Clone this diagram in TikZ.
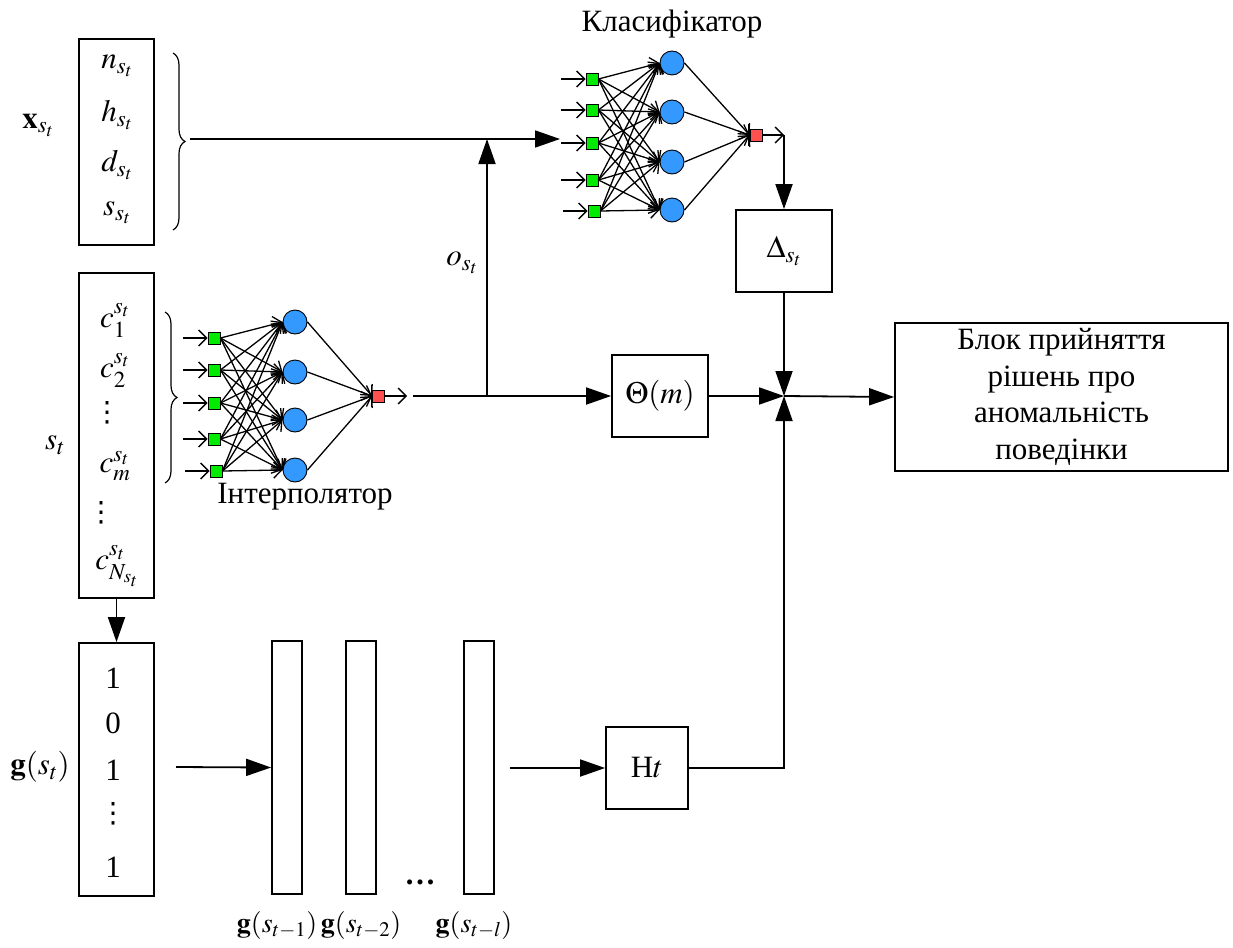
\documentclass[tikz,border=0pt]{standalone}
\usepackage{mathptmx}
\usepackage{fontspec}
\setmainfont{Liberation Serif}
\newfontfamily\dotsfont{DejaVu Sans}
\usetikzlibrary{arrows.meta,decorations.pathreplacing}

\definecolor{nin}{RGB}{0,235,0}
\definecolor{nhid}{RGB}{51,153,255}
\definecolor{nout}{RGB}{255,80,80}

\tikzset{
  box/.style={draw, line width=1.8pt, inner sep=0pt},
  flow/.style={line width=1.8pt, -{Triangle[length=25pt,width=17pt]}},
  plain/.style={line width=1.8pt},
  netedge/.style={line width=1.3pt, -{Straight Barb[length=8pt,width=16pt]}},
  innode/.style={draw, line width=0.9pt, fill=nin, minimum size=12pt, inner sep=0pt},
  hidnode/.style={circle, draw, line width=0.9pt, fill=nhid, minimum size=24pt, inner sep=0pt},
  outnode/.style={draw, line width=0.9pt, fill=nout, minimum size=12pt, inner sep=0pt},
  bracepath/.style={line width=1.2pt, decorate, decoration={brace, amplitude=12pt}},
  histlab/.style={font=\fontsize{28}{34}\selectfont},
  vdotsnode/.style={font=\dotsfont\fontsize{28}{30}\selectfont},
}

\begin{document}
\begin{tikzpicture}[x=1pt, y=-1pt, inner sep=1pt, font=\fontsize{31}{36}\selectfont]
\useasboundingbox (0,0) rectangle (1233,947);

% ---- feature vector x_{s_t}
\node[box, minimum width=75pt, minimum height=206pt] (xbox) at (116.5,142) {};
\node (xlab) at (38,125) {$\mathbf{x}_{s_t}$};
\node (xn) at (117,66) {$n_{s_t}$};
\node (xh) at (117,115) {$h_{s_t}$};
\node (xd) at (117,165) {$d_{s_t}$};
\node (xs) at (117,213) {$s_{s_t}$};
\draw[bracepath] (173,53) -- (173,230);

% ---- state s_t
\node[box, minimum width=75pt, minimum height=325pt] (sbox) at (116.5,435.5) {};
\node (slab) at (55,445) {$s_t$};
\node (c1) at (115,320) {$c_1^{s_t}$};
\node (c2) at (115,370) {$c_2^{s_t}$};
\node[vdotsnode] (cd1) at (107,413) {⋮};
\node (cm) at (115,466) {$c_m^{s_t}$};
\node[vdotsnode] (cd2) at (101,513) {⋮};
\node (cN) at (117,566) {$c_{N_{s_t}}^{s_t}$};
\draw[bracepath] (165,312) -- (165,483);

% ---- binary vector g(s_t)
\node[box, minimum width=75pt, minimum height=253pt] (gbox) at (116.5,769.5) {};
\node (glab) at (40,767) {$\mathbf{g}(s_t)$};
\node (g1) at (113,678) {1};
\node (g2) at (113,723) {0};
\node (g3) at (113,770) {1};
\node[vdotsnode] (g4) at (113,814) {⋮};
\node (g5) at (113,867) {1};
\draw[flow] (sbox.south) -- (gbox.north);

% ---- history of vectors
\node[box, minimum width=30pt, minimum height=253pt] (h1) at (287,767.5) {};
\node[box, minimum width=30pt, minimum height=253pt] (h2) at (361,767.5) {};
\node[box, minimum width=30pt, minimum height=253pt] (h3) at (479,767.5) {};
\node (hdots) at (420,882) {\textbf{\ldots}};
\node[histlab] (hl1) at (277,925) {$\mathbf{g}(s_{t-1})$};
\node[histlab] (hl2) at (361,925) {$\mathbf{g}(s_{t-2})$};
\node[histlab] (hl3) at (474,925) {$\mathbf{g}(s_{t-l})$};
\coordinate (gout) at (176,767);
\draw[flow] (gout) -- (h1.west);

% ---- Ht block
\node[box, minimum width=82pt, minimum height=82pt] (ht) at (647,768) {H$t$};
\coordinate (hin) at (510,768);
\draw[flow] (hin) -- (ht.west);

% ---- interpolator network
\foreach \i/\xx/\yy in {1/214/338, 2/214/370, 3/214/403, 4/214/439, 5/216/471} {
  \node[innode] (ii\i) at (\xx,\yy) {};
  \coordinate (iin\i) at (\xx-31,\yy);
}
\foreach \j/\yy in {1/322, 2/372, 3/420, 4/470}
  \node[hidnode] (ih\j) at (295,\yy) {};
\node[outnode] (io) at (378.5,396) {};
\foreach \i in {1,...,5} {
  \draw[netedge] (iin\i) -- (ii\i.west);
  \foreach \j in {1,...,4}
    \draw[netedge] (ii\i.east) -- (ih\j.west);
}
\foreach \j in {1,...,4}
  \draw[netedge] (ih\j.east) -- (io.west);
\draw[line width=1.3pt] ([xshift=-0.5pt]io.west) ++(0,-11) -- ++(0,22);
\coordinate (iout) at (407,396);
\draw[netedge] (io.east) -- (iout);
\node (ilab) at (305,497) {Інтерполятор};

% ---- classifier network
\foreach \i/\xx/\yy in {1/592/79, 2/592/110, 3/592/143, 4/592/180, 5/594/211} {
  \node[innode] (ci\i) at (\xx,\yy) {};
  \coordinate (cin\i) at (\xx-31,\yy);
}
\foreach \j/\yy in {1/63, 2/112, 3/162, 4/210}
  \node[hidnode] (ch\j) at (672,\yy) {};
\node[outnode] (co) at (756,135) {};
\foreach \i in {1,...,5} {
  \draw[netedge] (cin\i) -- (ci\i.west);
  \foreach \j in {1,...,4}
    \draw[netedge] (ci\i.east) -- (ch\j.west);
}
\foreach \j in {1,...,4}
  \draw[netedge] (ch\j.east) -- (co.west);
\draw[line width=1.3pt] ([xshift=-0.5pt]co.west) ++(0,-11) -- ++(0,22);
\coordinate (cout) at (784,135);
\draw[netedge] (co.east) -- (cout);
\node (clab) at (672,24) {Класифікатор};

% ---- decision part
\node[box, minimum width=96pt, minimum height=82pt] (delta) at (784,251) {$\Delta_{s_t}$};
\node[box, minimum width=96pt, minimum height=82pt] (theta) at (660,396) {$\Theta(m)$};
\node[box, minimum width=333pt, minimum height=148pt, align=center,
      font=\fontsize{31}{36.5}\selectfont] (dec) at (1061.5,397)
      {Блок прийняття\\рішень про\\аномальність\\поведінки};
\coordinate (J) at (784,396);

% ---- connectors
\coordinate (xbr) at (190,139);
\coordinate (A) at (487,139);
\coordinate (cin) at (560,139);
\coordinate (istart) at (413,396);
\coordinate (B) at (487,396);
\draw[plain] (xbr) -- (A);
\draw[flow] (A) -- (cin);
\draw[plain] (istart) -- (B);
\draw[flow] (B) -- (theta.west);
\draw[flow] (B) -- (A);
\node (olab) at (462,263) {$o_{s_t}$};

\draw[flow] (cout) -- (delta.north);
\draw[flow] (delta.south) -- (J);
\draw[flow] (theta.east) -- (J);
\draw[flow] (ht.east) -| (J);
\draw[flow] (J) -- (dec.west);
\end{tikzpicture}
\end{document}
